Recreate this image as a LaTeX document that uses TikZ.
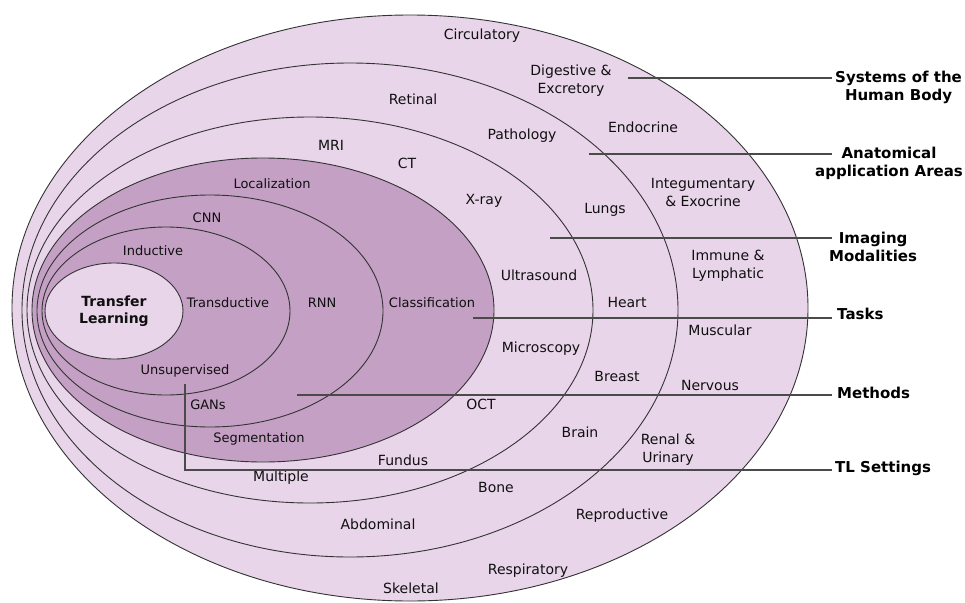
\documentclass[tikz,border=0pt]{standalone}
\usepackage{fontspec}
\setmainfont{DejaVu Sans}
\usetikzlibrary{shapes.geometric}
\definecolor{lightp}{HTML}{E9D5E9}
\definecolor{darkp}{HTML}{C4A0C5}
\definecolor{edge}{HTML}{333333}
\definecolor{lead}{HTML}{4A4A4A}
\definecolor{txt}{HTML}{101010}
\tikzset{
  ring/.style={ellipse, draw=edge, line width=0.9pt, inner sep=0pt, fill=#1},
  lbl/.style={text=txt, font=\fontsize{14}{18}\selectfont, align=center, inner sep=0pt},
  ilbl/.style={text=txt, font=\fontsize{13}{17}\selectfont, align=center, inner sep=0pt},
  cat/.style={text=black, font=\bfseries\fontsize{15}{18}\selectfont, align=center, inner sep=0pt, anchor=north west},
  leader/.style={draw=lead, line width=1.1pt},
}
\begin{document}
\begin{tikzpicture}[x=1pt,y=-1pt]
\useasboundingbox (0,0) rectangle (965,602);
% nested ellipses
\node[ring=lightp, minimum width=796pt, minimum height=586pt] (sys) at (410,308) {};
\node[ring=lightp, minimum width=656pt, minimum height=494pt] (anat) at (350,310) {};
\node[ring=lightp, minimum width=566pt, minimum height=386pt] (img) at (310,310) {};
\node[ring=darkp, minimum width=462pt, minimum height=304pt] (task) at (263,310) {};
\node[ring=darkp, minimum width=346pt, minimum height=232pt] (meth) at (210,311) {};
\node[ring=darkp, minimum width=248pt, minimum height=168pt] (sett) at (166,311) {};
\node[ring=lightp, minimum width=138pt, minimum height=96pt] (tl) at (114,311) {};
% Transfer learning
\node[ilbl, font=\bfseries\fontsize{14}{17}\selectfont] (tltext) at (114,311) {Transfer\\Learning};
% systems ring
\node[lbl] (circ) at (482,36) {Circulatory};
\node[lbl] (dig) at (571,81) {Digestive \&\\Excretory};
\node[lbl] (endo) at (643,127) {Endocrine};
\node[lbl] (integ) at (703,192) {Integumentary\\\& Exocrine};
\node[lbl] (immune) at (728,266) {Immune \&\\Lymphatic};
\node[lbl] (musc) at (720,330) {Muscular};
\node[lbl] (nerv) at (710,385) {Nervous};
\node[lbl] (renal) at (668,450) {Renal \&\\Urinary};
\node[lbl] (repro) at (622,516) {Reproductive};
\node[lbl] (resp) at (528,571) {Respiratory};
\node[lbl] (skel) at (411,588) {Skeletal};
% anatomical ring
\node[lbl] (retinal) at (413,99) {Retinal};
\node[lbl] (patho) at (522,136) {Pathology};
\node[lbl] (lungs) at (605,210) {Lungs};
\node[lbl] (heart) at (627,302) {Heart};
\node[lbl] (breast) at (617,376) {Breast};
\node[lbl] (brain) at (580,432) {Brain};
\node[lbl] (bone) at (496,487) {Bone};
\node[lbl] (abdom) at (378,524) {Abdominal};
% imaging ring
\node[lbl] (mri) at (331,145) {MRI};
\node[lbl] (ct) at (407,163) {CT};
\node[lbl] (xray) at (484,201) {X-ray};
\node[lbl] (us) at (539,275) {Ultrasound};
\node[lbl] (micro) at (541,349) {Microscopy};
\node[lbl] (oct) at (481,404) {OCT};
\node[lbl] (fundus) at (403,460) {Fundus};
\node[lbl] (mult) at (281,478) {Multiple};
% tasks
\node[ilbl] (loc) at (272,184) {Localization};
\node[ilbl] (cls) at (432,303) {Classification};
\node[ilbl] (seg) at (259,439) {Segmentation};
% methods
\node[ilbl] (cnn) at (207,218) {CNN};
\node[ilbl] (rnn) at (322,303) {RNN};
\node[ilbl] (gans) at (208,405) {GANs};
% settings
\node[ilbl] (ind) at (153,251) {Inductive};
\node[ilbl] (trans) at (228,303) {Transductive};
\node[ilbl] (unsup) at (185,371) {Unsupervised};
% category labels
\node[cat] (csys) at (835,71) {Systems of the\\Human Body};
\node[cat] (canat) at (815,147) {Anatomical\\application Areas};
\node[cat] (cimg) at (829,232) {Imaging\\Modalities};
\node[cat] (ctask) at (837,308) {Tasks};
\node[cat] (cmeth) at (837,387) {Methods};
\node[cat] (cset) at (835,461) {TL Settings};
% leader lines
\coordinate (s1) at (628,78);   \coordinate (e1) at (832,78);
\coordinate (s2) at (589,154);  \coordinate (e2) at (832,154);
\coordinate (s3) at (550,238);  \coordinate (e3) at (832,238);
\coordinate (s4) at (473,318);  \coordinate (e4) at (832,318);
\coordinate (s5) at (297,395);  \coordinate (e5) at (832,395);
\coordinate (s6) at (185,384);  \coordinate (k6) at (185,470); \coordinate (e6) at (832,470);
\draw[leader] (s1) -- (e1);
\draw[leader] (s2) -- (e2);
\draw[leader] (s3) -- (e3);
\draw[leader] (s4) -- (e4);
\draw[leader] (s5) -- (e5);
\draw[leader] (s6) -- (k6) -- (e6);
\end{tikzpicture}
\end{document}
